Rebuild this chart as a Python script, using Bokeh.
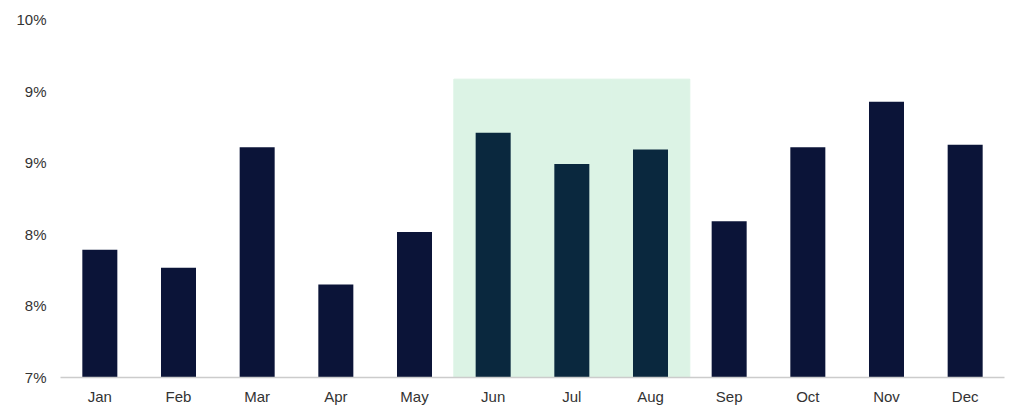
from bokeh.plotting import figure
from bokeh.models import FixedTicker, PrintfTickFormatter, Range1d
from bokeh.embed import file_html
from bokeh.resources import INLINE

months = ["Jan", "Feb", "Mar", "Apr", "May", "Jun", "Jul", "Aug", "Sep", "Oct", "Nov", "Dec"]
values = [8.07, 7.92, 8.93, 7.78, 8.22, 9.05, 8.79, 8.91, 8.31, 8.93, 9.31, 8.95]
highlight_months = ["Jun", "Jul", "Aug"]
highlight_top = 9.5
y_ticks = [7.0, 7.6, 8.2, 8.8, 9.4, 10.0]

normal_color = "#0b1438"
hl_bar_color = "#0a283e"
hl_bg_color = "#dcf3e5"
colors = [hl_bar_color if m in highlight_months else normal_color for m in months]

p = figure(x_range=months, width=1008, height=411, output_backend="svg",
           toolbar_location=None, min_border_left=60, min_border_right=4,
           min_border_top=19, min_border_bottom=34)
p.y_range = Range1d(7.0, 10.0)

p.vbar(x=highlight_months, top=[highlight_top] * len(highlight_months), bottom=7.0,
       width=1.0, fill_color=hl_bg_color, line_color=hl_bg_color, line_width=1)
p.vbar(x=months, top=values, bottom=7.0, width=0.445, fill_color=colors,
       line_color=None)

p.outline_line_color = None
p.xgrid.grid_line_color = None
p.ygrid.grid_line_color = None
p.background_fill_color = "white"
p.border_fill_color = "white"

p.yaxis.ticker = FixedTicker(ticks=y_ticks)
p.yaxis.formatter = PrintfTickFormatter(format="%.0f%%")
p.yaxis.axis_line_color = None
p.yaxis.major_tick_line_color = None
p.yaxis.minor_tick_line_color = None
p.yaxis.major_tick_out = 0
p.yaxis.major_tick_in = 0
p.yaxis.major_label_standoff = 14
p.yaxis.major_label_text_font = "Liberation Sans"
p.yaxis.major_label_text_font_size = "15px"
p.yaxis.major_label_text_color = "#333333"

p.xaxis.axis_line_color = "#cccccc"
p.xaxis.axis_line_width = 1.5
p.xaxis.major_tick_line_color = None
p.xaxis.minor_tick_line_color = None
p.xaxis.major_tick_out = 0
p.xaxis.major_tick_in = 0
p.xaxis.major_label_standoff = 10
p.xaxis.major_label_text_font = "Liberation Sans"
p.xaxis.major_label_text_font_size = "15px"
p.xaxis.major_label_text_color = "#333333"

open("out.html", "w").write(file_html(p, INLINE))
